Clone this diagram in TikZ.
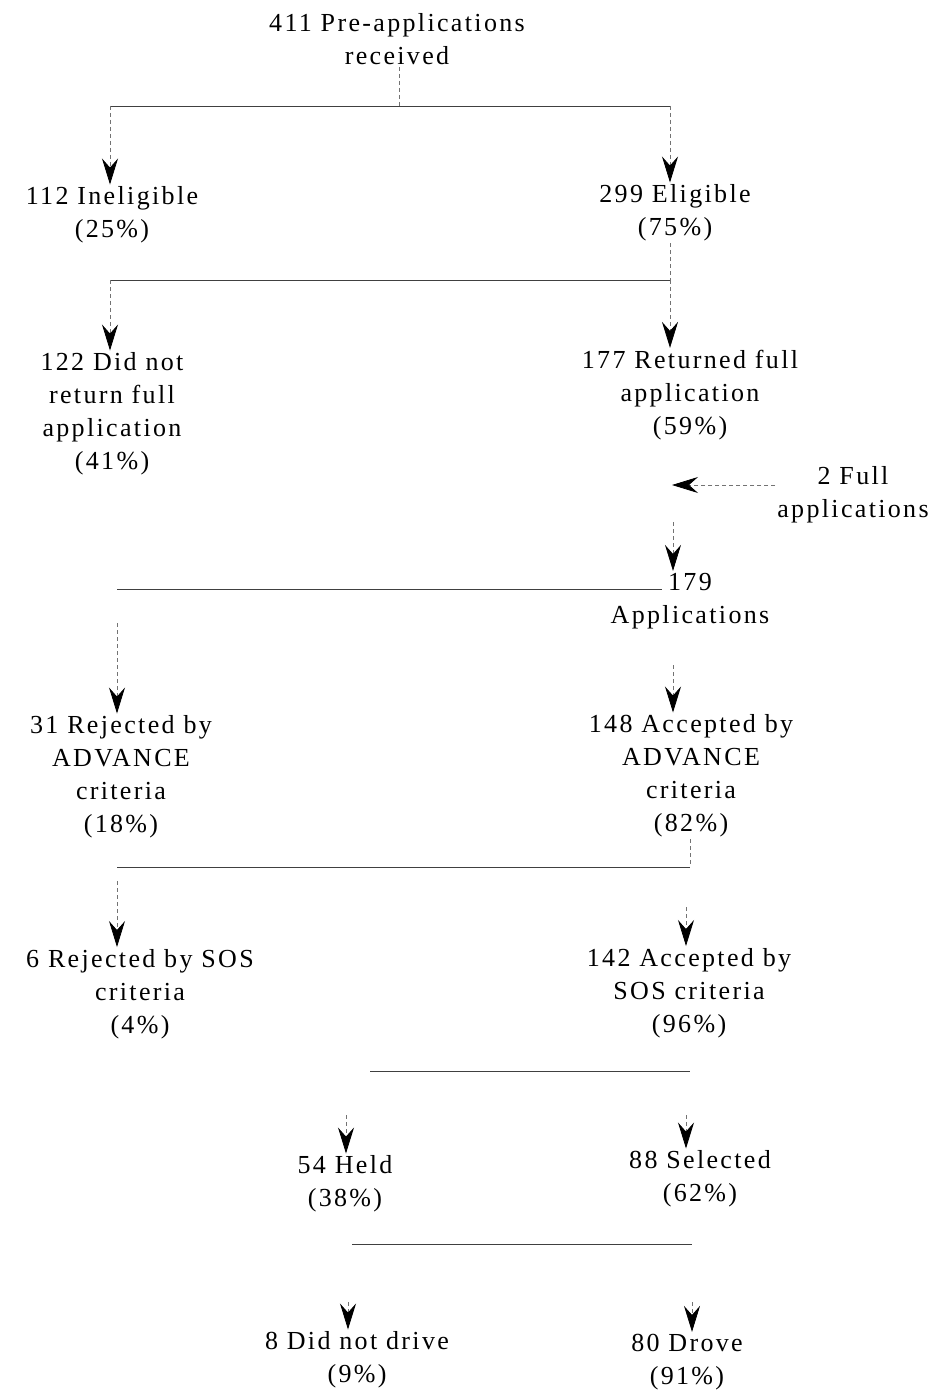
\documentclass[tikz,border=0pt]{standalone}
\usepackage{fontspec}
\setmainfont[LetterSpace=9]{Liberation Serif}
\usetikzlibrary{arrows.meta}
\tikzset{
  lbl/.style={align=center,inner sep=2pt,font=\fontsize{26}{33}\selectfont},
  hline/.style={line width=0.9pt,black!75},
  vline/.style={line width=0.8pt,black!55,dash pattern=on 4pt off 3pt},
  arr/.style={vline,-{Stealth[length=26pt,width=16pt,inset=9pt,color=black]}},
}
\begin{document}
\begin{tikzpicture}[x=1pt,y=-1pt]
\useasboundingbox[fill=white] (0,0) rectangle (934,1391);
% nodes
\node[lbl] (top) at (397,39) {411 Pre-applications\\received};
\node[lbl] (inel) at (112,215) {112 Ineligible\\(25\%)};
\node[lbl] (elig) at (675,213) {299 Eligible\\(75\%)};
\node[lbl] (didnot) at (112,414) {122 Did not\\return full\\application\\(41\%)};
\node[lbl] (ret) at (690,395) {177 Returned full\\application\\(59\%)};
\node[lbl] (full) at (853,495) {2 Full\\applications};
\node[lbl] (app) at (690,601) {179\\Applications};
\node[lbl] (rej) at (121,777) {31 Rejected by\\ADVANCE\\criteria\\(18\%)};
\node[lbl] (acc) at (691,776) {148 Accepted by\\ADVANCE\\criteria\\(82\%)};
\node[lbl] (rejsos) at (140,994) {6 Rejected by SOS\\criteria\\(4\%)};
\node[lbl] (accsos) at (689,993) {142 Accepted by\\SOS criteria\\(96\%)};
\node[lbl] (held) at (345,1184) {54 Held\\(38\%)};
\node[lbl] (sel) at (700,1179) {88 Selected\\(62\%)};
\node[lbl] (nodrive) at (357,1360) {8 Did not drive\\(9\%)};
\node[lbl] (drove) at (687,1362) {80 Drove\\(91\%)};
% junction coordinates
\coordinate (j1) at (399,106);
\coordinate (j1l) at (110,106);
\coordinate (j1r) at (670,106);
\coordinate (j2l) at (110,280);
\coordinate (j2r) at (670,280);
\coordinate (j3l) at (117,589);
\coordinate (j3r) at (662,589);
\coordinate (j4l) at (117,867);
\coordinate (j4r) at (690,867);
\coordinate (j5l) at (370,1071);
\coordinate (j5r) at (690,1071);
\coordinate (j6l) at (352,1244);
\coordinate (j6r) at (692,1244);
% level 1
\draw[vline] (top.south -| j1) -- (j1);
\draw[hline] (j1l) -- (j1r);
\draw[arr] (j1l) -- (j1l |- inel.north);
\draw[arr] (j1r) -- (j1r |- elig.north);
% level 2
\draw[vline] (elig.south -| j2r) -- (j2r);
\draw[hline] (j2l) -- (j2r);
\draw[arr] (j2l) -- (j2l |- didnot.north);
\draw[arr] (j2r) -- (j2r |- ret.north);
% level 3
\draw[arr,shorten <=80pt] (ret.south -| 673,0) -- (app.north -| 673,0);
\draw[arr] (full.west |- 0,485) -- (672,485);
% level 4
\draw[hline] (j3l) -- (j3r);
\draw[arr,shorten <=34pt] (j3l) -- (j3l |- rej.north);
\draw[arr,shorten <=34pt] (app.south -| 673,0) -- (acc.north -| 673,0);
% level 5
\draw[vline] (acc.south -| j4r) -- (j4r);
\draw[hline] (j4l) -- (j4r);
\draw[arr,shorten <=14pt] (j4l) -- (j4l |- rejsos.north);
\draw[arr,shorten <=40pt] (686,867) -- (accsos.north -| 686,0);
% level 6
\draw[hline] (j5l) -- (j5r);
\draw[arr,shorten <=44pt] (346,1071) -- (held.north -| 346,0);
\draw[arr,shorten <=44pt] (686,1071) -- (sel.north -| 686,0);
% level 7
\draw[hline] (j6l) -- (j6r);
\draw[arr,shorten <=58pt] (348,1244) -- (nodrive.north -| 348,0);
\draw[arr,shorten <=58pt] (j6r) -- (drove.north -| j6r);
\end{tikzpicture}
\end{document}
